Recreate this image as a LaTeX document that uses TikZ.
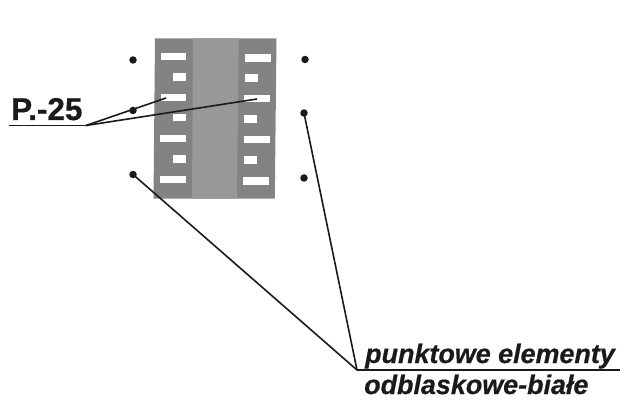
\documentclass[tikz,border=0pt]{standalone}
\usepackage{fontspec}
\setmainfont{Liberation Sans}
\newfontfamily\heavyfont[FakeBold=0.6]{Liberation Sans}
\definecolor{sidegray}{HTML}{838383}
\definecolor{midgray}{HTML}{989898}
\definecolor{inkblack}{HTML}{1A1A1A}
\tikzset{
  sideband/.style={fill=sidegray,draw=none},
  midband/.style={fill=midgray,draw=none},
  reflector/.style={fill=white,draw=none},
  leader/.style={draw=inkblack,line width=1.6pt},
  rule/.style={draw=inkblack,line width=1.9pt},
  dotmark/.style={circle,fill=inkblack,draw=none,minimum size=7.5pt,inner sep=0pt},
  plabel/.style={anchor=base west,inner sep=0pt,text=inkblack,font=\fontsize{31.5}{32}\heavyfont\bfseries},
  elabel/.style={anchor=base west,inner sep=0pt,text=inkblack,font=\fontsize{26.9}{28}\heavyfont\bfseries\itshape}
}
\newcommand{\refbar}[4]{\fill[reflector] (#1,#3) -- (#2,#3) -- (#2,#4) -- (#1,#4) -- cycle;}
\begin{document}
\begin{tikzpicture}[x=1pt,y=-1pt]
\useasboundingbox (0,0) rectangle (631,406);
% panel
\fill[sideband] (155,38.5) -- (276.5,38.5) -- (274.8,198.5) -- (153.5,198.5) -- cycle;
\fill[midband] (193,38.5) -- (238.7,38.5) -- (237,198.5) -- (192,198.5) -- cycle;
% reflective bars, left column
\refbar{161}{186.4}{53}{60.5}
\refbar{173.3}{186.4}{73.3}{80.7}
\refbar{160.7}{186.2}{93.7}{101.3}
\refbar{173}{186}{114}{121.5}
\refbar{160.3}{186}{134.7}{142.3}
\refbar{172.7}{185.7}{155.3}{162.7}
\refbar{160}{185.7}{175.7}{183.3}
% reflective bars, right column
\refbar{245}{270.5}{54}{61.7}
\refbar{244.7}{257.5}{74.3}{81.7}
\refbar{244.3}{270}{95}{102.5}
\refbar{244.3}{257}{115.3}{122.7}
\refbar{244}{269.7}{136}{143.5}
\refbar{243.7}{256.7}{156.3}{163.7}
\refbar{243.3}{269.3}{177}{184.5}
% dots
\node[dotmark] (d1) at (133,60) {};
\node[dotmark] (d2) at (133,110.5) {};
\node[dotmark] (d3) at (133,174.5) {};
\node[dotmark] (d4) at (305,59.5) {};
\node[dotmark] (d5) at (304,113) {};
\node[dotmark] (d6) at (304,178) {};
% labels
\node[plabel] (pl) at (11,120) {P.-25};
\node[elabel] (e1) at (365,363) {punktowe elementy};
\node[elabel] (e2) at (364,394) {odblaskowe-białe};
% leaders
\coordinate (pa) at (9,125.5);
\coordinate (pj) at (86,125.5);
\coordinate (bl) at (166,98);
\coordinate (br) at (257,99);
\coordinate (ej) at (357,370);
\coordinate (ee) at (620,370);
\draw[rule] (pa) -- (pj);
\draw[leader] (pj) -- (bl);
\draw[leader] (pj) -- (br);
\draw[leader] (d3.center) -- (ej);
\draw[leader] (d5.center) -- (ej);
\draw[rule] (ej) -- (ee);
\end{tikzpicture}
\end{document}
